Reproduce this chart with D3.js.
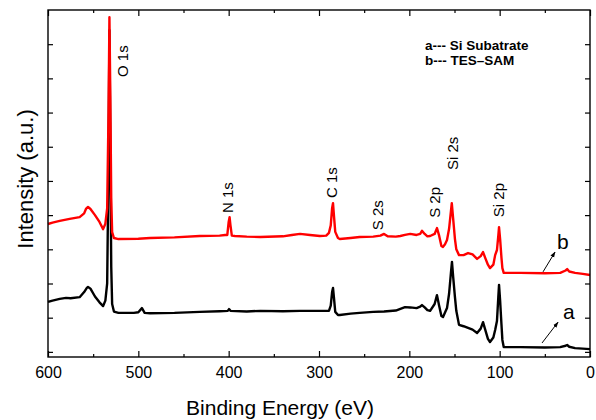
<!DOCTYPE html>
<html>
<head>
<meta charset="utf-8">
<script src="https://cdn.jsdelivr.net/npm/d3@7"></script>
<style>
body{margin:0;background:#fff;}
text{font-family:"Liberation Sans",Arial,sans-serif;}
</style>
</head>
<body>
<div class="chart"></div>
<script>
// spectrum a: Si substrate  [binding energy eV, intensity a.u.]
const specA = [
[600,1.46],[595,1.50],[587,1.55],[580,1.58],[575,1.57],[565,1.60],[560,1.75],[557,1.87],[555.7,1.90],[553,1.85],
[548,1.62],[543,1.45],[539,1.34],[536.5,1.50],[534.5,2.0],[533,5.5],[532,9.41],[531,6.0],[530,2.5],[529,1.4],
[527,1.18],[522,1.14],[505,1.14],[500,1.16],[496,1.28],[493,1.14],[487,1.13],[460,1.14],[432,1.17],[410,1.19],
[401,1.20],[399.6,1.25],[398,1.20],[380,1.18],[365,1.20],[340,1.19],[321,1.20],[300,1.20],[289,1.20],[287,1.35],
[285.5,1.75],[284.5,1.87],[283.5,1.6],[282,1.17],[279,1.08],[277,1.08],[265,1.12],[255,1.14],[240,1.17],[228,1.18],
[215,1.21],[204.8,1.31],[199,1.30],[192,1.28],[188,1.32],[186,1.37],[183,1.30],[180,1.22],[177,1.20],[172,1.40],
[169.4,1.66],[167,1.35],[164.5,1.05],[162.7,1.02],[160.5,1.15],[158.3,1.28],[156,1.7],[154,2.3],[152.8,2.63],[151.5,2.2],
[149.5,1.6],[148,1.2],[145,0.79],[140,0.75],[135,0.70],[130,0.65],[125,0.55],[121,0.68],[118.4,0.87],[116,0.65],
[113,0.38],[110.7,0.29],[107,0.42],[105,0.64],[103,0.9],[101.5,1.6],[100.7,1.96],[99.5,1.5],[98,0.8],[97,0.35],
[95.5,0.14],[77,0.14],[50,0.13],[33,0.14],[27,0.18],[25.3,0.20],[23,0.15],[16.5,0.11],[0,0.08]
];
// spectrum b: TES-SAM
const specB = [
[600,3.74],[595,3.78],[587,3.83],[576,3.89],[565,3.94],[560,4.05],[558,4.18],[555.7,4.24],[553,4.18],[548,4.00],
[543,3.80],[539,3.59],[536.5,3.75],[534.5,4.2],[533,7.0],[532,9.79],[531,7.5],[530,4.5],[529,3.5],[527,3.33],
[522,3.30],[500,3.31],[487,3.33],[460,3.35],[432,3.39],[410,3.40],[404,3.42],[401.5,3.42],[400,3.8],[399,3.94],
[398,3.7],[396.5,3.40],[393,3.39],[380,3.37],[365,3.36],[340,3.38],[330,3.42],[321,3.45],[310,3.42],[299,3.39],
[292,3.40],[289,3.48],[287,3.7],[285.5,4.2],[284.5,4.35],[283.5,4.0],[282,3.51],[279,3.33],[277,3.30],[265,3.33],
[255,3.36],[240,3.37],[232,3.40],[228,3.45],[224,3.38],[215,3.37],[210,3.39],[204.8,3.42],[199,3.45],[192,3.42],
[188,3.45],[186,3.54],[183,3.45],[180,3.38],[177,3.39],[172,3.45],[169.4,3.62],[167,3.4],[164.5,3.1],[162.7,3.07],
[160.5,3.15],[158.3,3.27],[156,3.6],[154,4.1],[153,4.35],[151.5,3.9],[149.5,3.3],[148,3.0],[145,2.83],[140,2.83],
[135,2.89],[130,2.85],[125,2.72],[121,2.80],[118.4,2.92],[116,2.75],[113,2.55],[110.7,2.45],[107,2.55],[105,2.83],
[103,2.98],[101.5,3.4],[100.7,3.65],[99.5,3.3],[98,2.75],[97,2.45],[95.5,2.31],[77,2.31],[50,2.30],[33,2.31],
[27,2.38],[25.3,2.42],[23,2.35],[16.5,2.31],[8,2.28],[0,2.25]
];

// peak labels: [text, energy at label baseline, intensity at label start]
const peakLabels = [
["O 1s",511.4,8.04],["N 1s",395.2,4.06],["C 1s",280.1,4.50],["S 2s",229.1,3.56],
["S 2p",166.0,3.92],["Si 2s",146.1,5.32],["Si 2p",95.2,3.94]
];
const legendLines = ["a--- Si Subatrate","b--- TES\u2013SAM"];
const xMajor = [600,500,400,300,200,100,0];
const xMinor = [550,450,350,250,150,50];
const yTicks = [0,1,2,3,4,5,6,7,8,9];

const margin = {top:10, left:48, right:6, bottom:63};
const width = 596 - margin.left - margin.right;
const height = 420 - margin.top - margin.bottom;

const svg = d3.select(".chart").append("svg")
    .attr("width", width + margin.left + margin.right)
    .attr("height", height + margin.top + margin.bottom)
    .append("g")
    .attr("transform", "translate(" + margin.left + "," + margin.top + ")");

const xScale = d3.scaleLinear().domain([600,0]).range([0,width]);
const yScale = d3.scaleLinear().domain([-0.15,10]).range([height,0]);

const line = d3.line()
    .x(d=>xScale(d[0]))
    .y(d=>yScale(d[1]));

svg.append("path").datum(specA)
    .attr("fill","none").attr("stroke","#000").attr("stroke-width",2.4)
    .attr("stroke-linejoin","round")
    .attr("d",line);
svg.append("path").datum(specB)
    .attr("fill","none").attr("stroke","#ff0000").attr("stroke-width",2.4)
    .attr("stroke-linejoin","round")
    .attr("d",line);

// axes, ticks inside
const xAxis = d3.axisBottom(xScale).tickValues(xMajor).tickSizeInner(-6).tickSizeOuter(0).tickPadding(10);
svg.append("g").attr("class","axis x-axis")
    .attr("transform",`translate(0,${height})`)
    .call(xAxis);
svg.append("g").attr("transform",`translate(0,${height})`)
    .call(d3.axisBottom(xScale).tickValues(xMinor).tickSize(-3).tickFormat(""));
svg.append("g")
    .call(d3.axisTop(xScale).tickValues(xMajor).tickSize(-6).tickFormat(""));
svg.append("g")
    .call(d3.axisTop(xScale).tickValues(xMinor).tickSize(-3).tickFormat(""));
svg.append("g")
    .call(d3.axisLeft(yScale).tickValues(yTicks).tickSize(-5).tickFormat(""));
svg.append("g").attr("transform",`translate(${width},0)`)
    .call(d3.axisRight(yScale).tickValues(yTicks).tickSize(-5).tickFormat(""));

svg.selectAll(".domain").remove();
svg.selectAll(".tick line").attr("stroke","#000").attr("stroke-width",1.2);
svg.selectAll(".x-axis text").attr("font-size",16).attr("fill","#000")
    .attr("font-family","Liberation Sans, Arial, sans-serif");

svg.append("rect")
    .attr("width",width).attr("height",height)
    .attr("fill","none").attr("stroke","#000").attr("stroke-width",1.4);

// peak labels
svg.selectAll(".peak-label")
    .data(peakLabels)
    .enter()
    .append("text")
    .attr("class","peak-label")
    .attr("transform",d=>`translate(${xScale(d[1])},${yScale(d[2])}) rotate(-90)`)
    .attr("font-size",15)
    .text(d=>d[0]);

// legend
svg.selectAll(".legend-label")
    .data(legendLines)
    .enter()
    .append("text")
    .attr("class","legend-label")
    .attr("x",377)
    .attr("y",(d,i)=>39.5+i*15)
    .attr("font-size",13.5)
    .attr("font-weight","bold")
    .text(d=>d);

// a / b markers with arrows
svg.append("defs").append("marker")
    .attr("id","arrow").attr("viewBox","0 0 10 10")
    .attr("refX",9).attr("refY",5)
    .attr("markerWidth",6).attr("markerHeight",6)
    .attr("orient","auto")
    .append("path").attr("d","M0,1.5L10,5L0,8.5Z").attr("fill","#000");

const arrows = [
{label:"b", from:[52.0,2.34], to:[38.7,2.92], text:[36.5,3.01]},
{label:"a", from:[53.1,0.26], to:[35.4,0.87], text:[29.9,0.96]}
];
svg.selectAll(".arrow")
    .data(arrows)
    .enter()
    .append("line")
    .attr("x1",d=>xScale(d.from[0])).attr("y1",d=>yScale(d.from[1]))
    .attr("x2",d=>xScale(d.to[0])).attr("y2",d=>yScale(d.to[1]))
    .attr("stroke","#000").attr("stroke-width",1)
    .attr("marker-end","url(#arrow)");
svg.selectAll(".ab-label")
    .data(arrows)
    .enter()
    .append("text")
    .attr("x",d=>xScale(d.text[0])).attr("y",d=>yScale(d.text[1]))
    .attr("font-size",21)
    .text(d=>d.label);

// axis titles
svg.append("text")
    .attr("x",232)
    .attr("y",height+58)
    .attr("text-anchor","middle")
    .attr("font-size",21)
    .text("Binding Energy (eV)");

svg.append("text")
    .attr("transform",`translate(-15,169) rotate(-90)`)
    .attr("text-anchor","middle")
    .attr("font-size",22)
    .text("Intensity (a.u.)");
</script>
</body>
</html>
